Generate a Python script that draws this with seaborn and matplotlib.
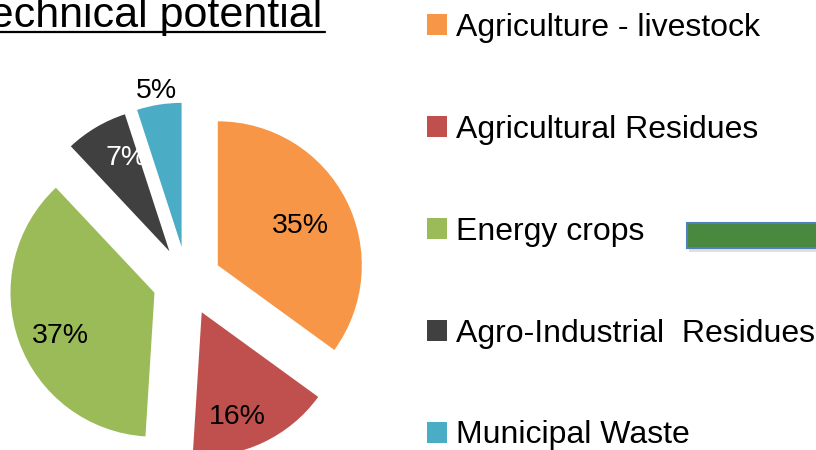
import numpy as np
import matplotlib
matplotlib.use("Agg")
import matplotlib.pyplot as plt
import seaborn as sns
from matplotlib.patches import Rectangle
from matplotlib.lines import Line2D

sources = ["Agriculture - livestock", "Agricultural Residues", "Energy crops",
           "Agro-Industrial  Residues", "Municipal Waste"]
shares = [35, 16, 37, 7, 5]
colors = ["#F79646", "#C0504D", "#9BBB59", "#404040", "#4BACC6"]
label_colors = ["black", "black", "black", "white", "black"]
# where each % label sits: distance from wedge apex (in radii), clockwise nudge (deg)
label_dist = [0.64, 0.75, 0.71, 0.73, 1.12]
label_nudge = [0, 5.8, -3.3, 6.5, 0]

sns.set_style("white")
plt.rcParams["font.family"] = ["Liberation Sans", "DejaVu Sans"]
plt.rcParams["text.color"] = "black"

W, H = 816, 450
fig = plt.figure(figsize=(W / 100, H / 100), dpi=100)
ax = fig.add_axes([0, 0, 1, 1])

# pie centre and radius in pixels
cx, cy, rad = 187, 281, 144

wedges, texts, autotexts = ax.pie(
    shares, colors=sns.color_palette(colors), explode=[0.24] * len(shares),
    startangle=90, counterclock=False, autopct="%1.0f%%",
    wedgeprops=dict(linewidth=0), textprops=dict(fontsize=20.5))

for w, t, d, n, c in zip(wedges, autotexts, label_dist, label_nudge, label_colors):
    mid = np.deg2rad((w.theta1 + w.theta2) / 2 - n)
    x0, y0 = w.center
    t.set_position((x0 + d * w.r * np.cos(mid), y0 + d * w.r * np.sin(mid)))
    t.set_color(c)
    t.set_va("center_baseline")

ax.set_aspect("auto")
ax.set_xlim(-cx / rad, (W - cx) / rad)
ax.set_ylim(-(H - cy) / rad, cy / rad)
ax.axis("off")

leg = ax.legend(wedges, sources, loc="upper left",
                bbox_to_anchor=(427 / W, 1 - 13 / H), bbox_transform=fig.transFigure,
                frameon=False, fontsize=23, handlelength=0.62, handleheight=0.62,
                handletextpad=0.3, labelspacing=2.25, borderpad=0, borderaxespad=0,
                labelcolor="black")

# title, cropped at the left edge, with an underline
fig.text(322 / W, 1 - 27 / H, "Technical potential", ha="right", va="baseline",
         fontsize=31, color="black")
fig.add_artist(Line2D([0, 325 / W], [1 - 32 / H, 1 - 32 / H],
                      transform=fig.transFigure, color="black", lw=1.6))

# green shape at the right edge
fig.add_artist(Rectangle((689 / W, 1 - 252 / H), 140 / W, 26 / H,
                         transform=fig.transFigure, color="#999999", alpha=0.3, lw=0))
fig.add_artist(Rectangle((687 / W, 1 - 248 / H), 140 / W, 25 / H,
                         transform=fig.transFigure, facecolor="#48893F",
                         edgecolor="#4F81BD", lw=1.5))

fig.savefig("out.png", dpi=100)
